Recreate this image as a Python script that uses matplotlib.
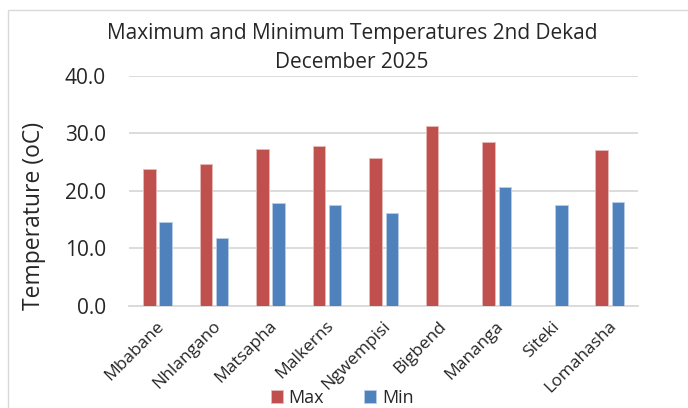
import matplotlib
matplotlib.use("Agg")
import matplotlib.pyplot as plt
import matplotlib.transforms as mtransforms
import numpy as np

stations = ['Mbabane', 'Nhlangano', 'Matsapha', 'Malkerns', 'Ngwempisi',
            'Bigbend', 'Mananga', 'Siteki', 'Lomahasha']
tmax = [23.7, 24.6, 27.2, 27.8, 25.7, 31.3, 28.5, np.nan, 27.0]
tmin = [14.5, 11.7, 17.8, 17.6, 16.1, np.nan, 20.6, 17.6, 18.0]
yticks = [0, 10, 20, 30, 40]

plt.rcParams['font.family'] = ['Open Sans', 'DejaVu Sans']
txt = '#262626'

W, H = 688, 408
fig = plt.figure(figsize=(W / 100, H / 100), dpi=100)
# plot area in pixels: x 129..638, y 75.7..305.7
ax = fig.add_axes([129.3 / W, 1 - 305.7 / H, 508.7 / W, 230 / H])

x = np.arange(len(stations))
w = 0.22
ax.bar(x - 0.143, tmax, w, color='#C0504D', edgecolor='#E6B9B8', linewidth=0.6, label='Max', zorder=3)
ax.bar(x + 0.143, tmin, w, color='#4F81BD', edgecolor='#B9CDE5', linewidth=0.6, label='Min', zorder=3)

ax.set_xlim(-0.5, len(stations) - 0.5)
ax.set_ylim(0, 40)
ax.set_yticks(yticks)
ax.set_yticklabels([f'{v:.1f}' for v in yticks], fontsize=15, color=txt)
ax.yaxis.grid(True, color='#D9D9D9', linewidth=1.3, zorder=0)
for s in ['top', 'right', 'left']:
    ax.spines[s].set_visible(False)
ax.spines['bottom'].set_color('#D9D9D9')
ax.spines['bottom'].set_linewidth(1.3)
ax.tick_params(axis='both', length=0)
ax.tick_params(axis='y', pad=17)
ax.set_xticks(x)
ax.set_xticklabels(stations, rotation=45, ha='right', va='center', rotation_mode='anchor',
                   fontsize=12.5, color=txt)
ax.tick_params(axis='x', pad=13)
shift = mtransforms.ScaledTranslation(4 / 100, 0, fig.dpi_scale_trans)
for lab in ax.get_xticklabels():
    lab.set_transform(lab.get_transform() + shift)

fig.text(34 / W, 1 - 216 / H, 'Temperature (oC)', rotation=90, ha='center', va='center',
         fontsize=16.5, color=txt)

fig.text(352 / W, 1 - 33 / H, 'Maximum and Minimum Temperatures 2nd Dekad',
         ha='center', va='center', fontsize=15, color=txt)
fig.text(352 / W, 1 - 63 / H, 'December 2025',
         ha='center', va='center', fontsize=15, color=txt)

fig.legend(loc='center', bbox_to_anchor=(342 / W, 1 - 398 / H), ncol=2, frameon=False,
           fontsize=13, handlelength=0.7, handleheight=0.7, columnspacing=2.2,
           handletextpad=0.3, labelcolor=txt, borderpad=0)

border = plt.Rectangle((8 / W, -0.05), 1.1, 1.05 - 10 / H, transform=fig.transFigure,
                       fill=False, edgecolor='#D9D9D9', linewidth=1.0)
fig.add_artist(border)

fig.savefig('out.png', dpi=100)
